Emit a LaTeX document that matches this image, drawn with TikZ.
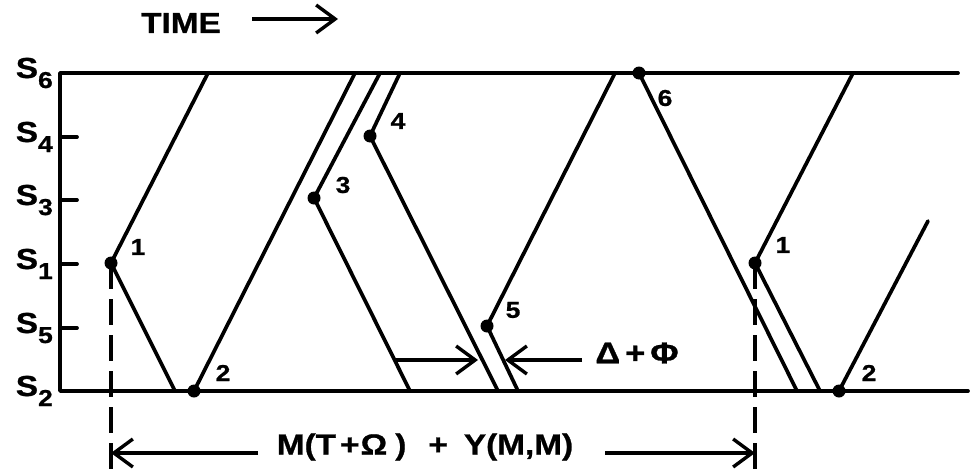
\documentclass[tikz,border=0pt]{standalone}
\usepackage{fontspec}
\setmainfont{Liberation Sans}[FakeStretch=1.15,BoldFeatures={FakeBold=0.9}]
\usetikzlibrary{arrows.meta}
\newcommand{\Slb}[1]{S\raisebox{-10pt}{\fontsize{23}{23}\selectfont #1}}
\begin{document}
\begin{tikzpicture}[x=1pt,y=-1pt,
  wire/.style={line width=3.7pt,line cap=round,line join=round},
  dot/.style={circle,fill,inner sep=0pt,minimum size=13pt},
  num/.style={font=\bfseries\fontsize{23}{23}\selectfont,inner sep=0pt},
  slab/.style={font=\bfseries\fontsize{29}{29}\selectfont,anchor=base east,inner sep=0pt},
  lbl/.style={font=\bfseries\fontsize{29}{29}\selectfont,inner sep=0pt},
  dimline/.style={line width=3.4pt,-{Straight Barb[length=19pt,width=28pt,line width=3.4pt]}},
  dashline/.style={line width=3.4pt,dash pattern=on 26pt off 10pt}
]
\useasboundingbox (0,0) rectangle (971,474);

% frame
\coordinate (tl) at (60,73); \coordinate (tr) at (958,73);
\coordinate (bl) at (60,391); \coordinate (br) at (968,391);
\draw[wire] (tr) -- (tl) -- (bl) -- (br);

% level labels and ticks
\foreach \yy/\s in {73/6,137/4,200/3,264/1,328/5,391/2}
  \node[slab] (lab\s) at (53,\yy+5) {\Slb{\s}};
\foreach \yy in {137,200,264,328}
  \draw[wire] (60,\yy) -- (77,\yy);

% event points
\node[dot] (p1)  at (111,263) {};
\node[dot] (p2)  at (194,391) {};
\node[dot] (p3)  at (314,198) {};
\node[dot] (p4)  at (370,136) {};
\node[dot] (p5)  at (487,326) {};
\node[dot] (p6)  at (639,73)  {};
\node[dot] (q1)  at (755,263) {};
\node[dot] (q2)  at (839,391) {};

% line ends
\coordinate (t1) at (208,73);  \coordinate (b1) at (175,391);
\coordinate (t2) at (355,73);
\coordinate (t3) at (380,73);  \coordinate (b3) at (410,391);
\coordinate (t4) at (400,73);  \coordinate (b4) at (498,391);
\coordinate (t5) at (615,73);  \coordinate (b5) at (518,391);
\coordinate (b6) at (797,391);
\coordinate (u1) at (853,73);  \coordinate (v1) at (820,391);
\coordinate (e2) at (928,221);

\draw[wire] (t1) -- (p1.center) -- (b1);
\draw[wire] (p2.center) -- (t2);
\draw[wire] (t3) -- (p3.center) -- (b3);
\draw[wire] (t4) -- (p4.center) -- (b4);
\draw[wire] (t5) -- (p5.center) -- (b5);
\draw[wire] (p6.center) -- (b6);
\draw[wire] (u1) -- (q1.center) -- (v1);
\draw[wire] (q2.center) -- (e2);

% number labels
\node[num] (n1) at (138,247) {1};
\node[num] (n2) at (223,373) {2};
\node[num] (n3) at (343,185) {3};
\node[num] (n4) at (398,121) {4};
\node[num] (n5) at (513,310) {5};
\node[num] (n6) at (665,98)  {6};
\node[num] (m1) at (783,245) {1};
\node[num] (m2) at (869,373) {2};

% dashed verticals
\coordinate (d1) at (111,472); \coordinate (d2) at (755,472);
\draw[dashline] (p1.center) -- (d1);
\draw[dashline] (q1.center) -- (d2);

% period dimension
\coordinate (dl) at (111,453); \coordinate (dls) at (258,453);
\coordinate (dr) at (755,453); \coordinate (drs) at (605,453);
\node[lbl] (per) at (425,447) {M(T\hspace{4pt}+\hspace{1pt}Ω\hspace{8pt})\hspace{22pt}+\hspace{16pt}Y(M,M)};
\draw[dimline] (dls) -- (dl);
\draw[dimline] (drs) -- (dr);

% Delta + Phi
\coordinate (a3) at (394,360); \coordinate (a4) at (478,360);
\coordinate (a6) at (582,360); \coordinate (a5) at (505,360);
\draw[dimline] (a3) -- (a4);
\draw[dimline] (a6) -- (a5);
\node[lbl,font=\bfseries\fontsize{30}{30}\selectfont] (dp) at (637,353) {Δ\hspace{5pt}+\hspace{5pt}Φ};

% time
\node[lbl,font=\bfseries\fontsize{29}{29}\selectfont] (time) at (181,23) {TIME};
\coordinate (ts) at (252,19); \coordinate (te) at (338,19);
\draw[dimline] (ts) -- (te);
\end{tikzpicture}
\end{document}
